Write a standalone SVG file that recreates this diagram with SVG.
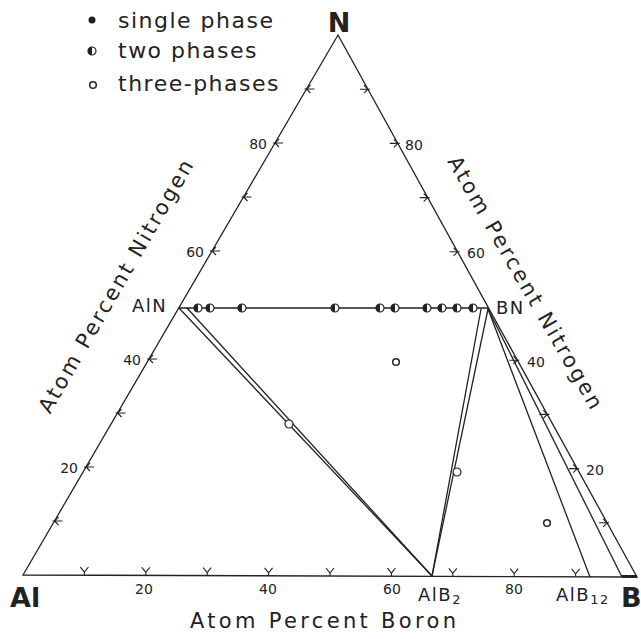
<svg xmlns="http://www.w3.org/2000/svg" width="641" height="639" viewBox="0 0 641 639" xmlns:xlink="http://www.w3.org/1999/xlink">
<style>
  .ln{stroke:#222;stroke-width:1.3;fill:none;stroke-linecap:round}
  .tk{stroke:#222;stroke-width:1.1;fill:none}
  .t{font-family:"DejaVu Sans","Liberation Sans",sans-serif;fill:#222}
  .num{font-size:14px}
  .lab{font-size:18px;letter-spacing:1.5px}
  .big{font-size:27px;font-weight:bold}
  .ax{font-size:21px}
  .leg{font-size:22px;letter-spacing:1.5px}
</style>
<defs>
  <g id="two"><circle r="4" fill="#fff" stroke="#222" stroke-width="1.2"/><path d="M0,-4 A4,4 0 0 0 0,4 Z" fill="#222"/></g>
  <g id="three"><circle r="3.3" fill="#fff" stroke="#222" stroke-width="1.5"/></g>
  <g id="open"><circle r="4" fill="#fff" stroke="#222" stroke-width="1.2"/></g>
  <path id="tb" d="M-4,-8 L0,-3 L4,-8 M0,-3 V0"/>
  <path id="tl" d="M-2,0 H8 M4,-4 L0,0 L4,4"/>
  <path id="tr" d="M2,0 H-8 M-4,-4 L0,0 L-4,4"/>
</defs>
<rect width="641" height="639" fill="#fff"/>

<g id="triangle">
  <path class="ln" d="M23,575 L338,35 L637,577 Z"/>
</g>

<g id="ticks" class="tk">
  <use xlink:href="#tb" x="84.4" y="575.2"/>
  <use xlink:href="#tb" x="145.8" y="575.4"/>
  <use xlink:href="#tb" x="207.2" y="575.6"/>
  <use xlink:href="#tb" x="268.6" y="575.8"/>
  <use xlink:href="#tb" x="330" y="576"/>
  <use xlink:href="#tb" x="391.4" y="576.2"/>
  <use xlink:href="#tb" x="452.8" y="576.4"/>
  <use xlink:href="#tb" x="514.2" y="576.6"/>
  <use xlink:href="#tb" x="575.6" y="576.8"/>
  <use xlink:href="#tl" x="54.5" y="521"/>
  <use xlink:href="#tl" x="86" y="467"/>
  <use xlink:href="#tl" x="117.5" y="413"/>
  <use xlink:href="#tl" x="149" y="359"/>
  <use xlink:href="#tl" x="212" y="251"/>
  <use xlink:href="#tl" x="243.5" y="197"/>
  <use xlink:href="#tl" x="275" y="143"/>
  <use xlink:href="#tl" x="306.5" y="89"/>
  <use xlink:href="#tr" x="607.1" y="522.8"/>
  <use xlink:href="#tr" x="577.2" y="468.6"/>
  <use xlink:href="#tr" x="547.3" y="414.4"/>
  <use xlink:href="#tr" x="517.4" y="360.2"/>
  <use xlink:href="#tr" x="457.6" y="251.8"/>
  <use xlink:href="#tr" x="427.7" y="197.6"/>
  <use xlink:href="#tr" x="397.8" y="143.4"/>
  <use xlink:href="#tr" x="367.9" y="89.2"/>
</g>

<g id="tick-labels" class="t num">
  <text x="78" y="473" text-anchor="end">20</text>
  <text x="141" y="365" text-anchor="end">40</text>
  <text x="204" y="257" text-anchor="end">60</text>
  <text x="267" y="149" text-anchor="end">80</text>
  <text x="586" y="475">20</text>
  <text x="527" y="367">40</text>
  <text x="467" y="258">60</text>
  <text x="405" y="150">80</text>
  <text x="144" y="594" text-anchor="middle">20</text>
  <text x="268" y="594" text-anchor="middle">40</text>
  <text x="392" y="594" text-anchor="middle">60</text>
  <text x="514" y="594" text-anchor="middle">80</text>
</g>

<g id="connectors">
  <line class="ln" x1="179" y1="308" x2="488" y2="308"/>
  <line class="ln" x1="179" y1="308" x2="432" y2="576"/>
  <line class="ln" x1="187" y1="308" x2="432" y2="576"/>
  <line class="ln" x1="481" y1="309" x2="432" y2="576"/>
  <line class="ln" x1="488" y1="309" x2="432" y2="576"/>
  <line class="ln" x1="488" y1="309" x2="590" y2="577"/>
  <line class="ln" x1="488" y1="309" x2="622" y2="577"/>
  <line x1="622" y1="576.5" x2="637" y2="576.5" stroke="#222" stroke-width="3"/>
</g>

<g id="points">
  <use xlink:href="#two" x="198" y="308"/>
  <use xlink:href="#two" x="210" y="308"/>
  <use xlink:href="#two" x="242" y="308"/>
  <use xlink:href="#two" x="335" y="308"/>
  <use xlink:href="#two" x="380" y="308"/>
  <use xlink:href="#two" x="395" y="308"/>
  <use xlink:href="#two" x="427" y="308"/>
  <use xlink:href="#two" x="442" y="308"/>
  <use xlink:href="#two" x="457" y="308"/>
  <use xlink:href="#two" x="473" y="308"/>
  <use xlink:href="#open" x="289" y="424"/>
  <use xlink:href="#open" x="457" y="472"/>
  <use xlink:href="#three" x="396" y="362"/>
  <use xlink:href="#three" x="547" y="523"/>
</g>

<g id="node-N"><text class="t big" x="339" y="32" text-anchor="middle" font-size="29">N</text></g>
<g id="node-Al"><text class="t big" x="10" y="607">Al</text></g>
<g id="node-B"><text class="t big" x="621" y="607">B</text></g>
<g id="node-AlN"><text class="t lab" x="132" y="312">AlN</text></g>
<g id="node-BN"><text class="t lab" x="496" y="314">BN</text></g>
<g id="node-AlB2"><text class="t lab" x="418" y="601">AlB<tspan font-size="13" dy="3">2</tspan></text></g>
<g id="node-AlB12"><text class="t lab" x="556" y="601">AlB<tspan font-size="13" dy="3">12</tspan></text></g>

<g id="axis-titles" class="t ax">
  <text x="190" y="628" textLength="266" lengthAdjust="spacing">Atom  Percent  Boron</text>
  <text transform="translate(122,290) rotate(-60)" text-anchor="middle" textLength="288" lengthAdjust="spacing">Atom Percent Nitrogen</text>
  <text transform="translate(519,286) rotate(60)" text-anchor="middle" textLength="288" lengthAdjust="spacing">Atom Percent Nitrogen</text>
</g>

<g id="legend">
  <circle cx="92" cy="20" r="3.5" fill="#222"/>
  <use xlink:href="#two" x="92" y="51"/>
  <use xlink:href="#three" x="93" y="85"/>
  <text class="t leg" x="118" y="28">single phase</text>
  <text class="t leg" x="118" y="58">two phases</text>
  <text class="t leg" x="118" y="91">three-phases</text>
</g>
</svg>
